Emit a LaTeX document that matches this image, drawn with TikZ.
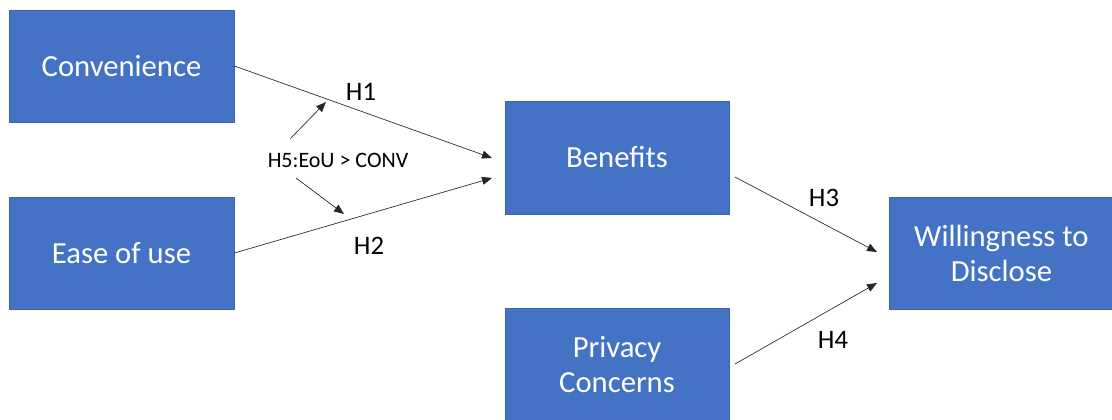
\documentclass[tikz,border=0pt]{standalone}
\usepackage{fontspec}
\setmainfont{Carlito}
\usetikzlibrary{arrows.meta}
\definecolor{boxblue}{HTML}{4472C4}
\definecolor{boxline}{HTML}{3A64B0}
\begin{document}
\begin{tikzpicture}[x=0.75pt,y=-0.75pt,
  box/.style={draw=boxline,line width=0.6pt,fill=boxblue,text=white,inner sep=0pt,align=center,font=\fontsize{23}{27}\selectfont},
  lbl/.style={inner sep=0pt,font=\fontsize{20}{24}\selectfont},
  conn/.style={draw=black!85,line width=0.5pt,-{Triangle[length=7.5pt,width=6pt]}}]
\useasboundingbox (0,0) rectangle (1112,419);
\node[box,minimum width=225*0.75pt,minimum height=112*0.75pt] (conv) at (121.5,66) {Convenience};
\node[box,minimum width=225*0.75pt,minimum height=112*0.75pt] (ease) at (121.5,253) {Ease of use};
\node[box,minimum width=224*0.75pt,minimum height=113*0.75pt] (ben) at (617,157.5) {Benefits};
\node[box,minimum width=224*0.75pt,minimum height=112*0.75pt,anchor=north] (priv) at (617,308) {Privacy\\[-1pt]Concerns};
\node[box,minimum width=224*0.75pt,minimum height=112*0.75pt,anchor=north west] (will) at (889,197) {Willingness to\\[-1pt]Disclose};
\coordinate (e1) at (492,158);
\coordinate (e2) at (492,178);
\coordinate (b3) at (735,177);
\coordinate (e3) at (877,252);
\coordinate (b4) at (735,364);
\coordinate (e4) at (877,283);
\coordinate (s5a) at (290,139);
\coordinate (e5a) at (326,102);
\coordinate (s5b) at (296,178);
\coordinate (e5b) at (344,214);
\draw[conn] (conv.east) -- (e1);
\draw[conn] (ease.east) -- (e2);
\draw[conn] (b3) -- (e3);
\draw[conn] (b4) -- (e4);
\draw[conn] (s5a) -- (e5a);
\draw[conn] (s5b) -- (e5b);
\node[lbl] (h1) at (361,92) {H1};
\node[lbl] (h2) at (369,246) {H2};
\node[lbl] (h3) at (824,198) {H3};
\node[lbl] (h4) at (833,340) {H4};
\node[inner sep=0pt,font=\fontsize{16.5}{19}\selectfont] (h5) at (338,160) {H5:EoU > CONV};
\end{tikzpicture}
\end{document}
